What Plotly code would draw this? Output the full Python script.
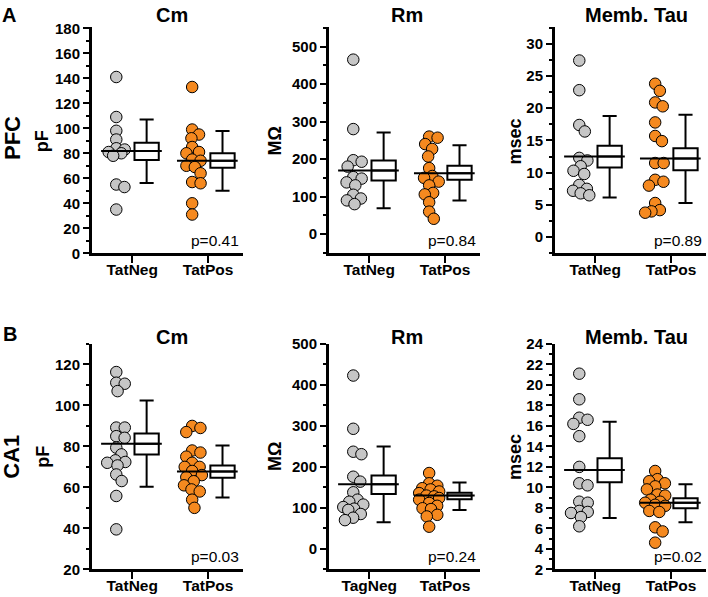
import math
import plotly.graph_objects as go

# ---------------- data ----------------
groups = ["TatNeg", "TatPos"]
groups_ca1_rm = ["TagNeg", "TatPos"]

pfc_cm_neg = [141, 109, 98, 91, 84, 83, 81, 80, 78, 55, 53, 35]
pfc_cm_pos = [133, 99, 95, 92, 85, 81, 80, 75, 74, 70, 69, 64, 57, 56, 40, 31]
pfc_rm_neg = [465, 280, 197, 193, 180, 152, 148, 138, 130, 105, 95, 90, 80]
pfc_rm_pos = [260, 257, 240, 227, 207, 176, 155, 150, 140, 130, 110, 106, 85, 60, 41]
pfc_tau_neg = [27.4, 22.8, 17.4, 16.4, 12.3, 11.9, 11.0, 10.3, 9.8, 8.1, 7.5, 7.2, 6.8, 6.5]
pfc_tau_pos = [23.8, 22.7, 20.9, 20.3, 17.8, 15.7, 14.9, 11.5, 11.5, 8.9, 8.6, 8.0, 5.3, 4.2, 4.0, 3.8]
ca1_cm_neg = [116.3, 111.1, 110.6, 107, 89.2, 89.2, 85, 84.2, 79.4, 76.1, 73.2, 72.4, 72, 70.7, 66.3, 63.1, 55.8, 39.5]
ca1_cm_pos = [90, 89, 87, 78, 77, 75, 72, 70, 70, 68, 66, 65, 63, 61, 59, 58, 54, 50]
ca1_rm_neg = [423, 293, 237, 231, 176, 164, 138, 120, 115, 108, 102, 98, 95, 85, 76, 70]
ca1_rm_pos = [185, 160, 154, 148, 145, 140, 136, 130, 128, 124, 120, 112, 105, 99, 97, 83, 79, 54]
ca1_tau_neg = [21.1, 18.6, 16.8, 16.6, 16.2, 15.0, 12.0, 10.4, 10.2, 8.6, 8.5, 7.7, 7.6, 7.5, 7.1, 6.2]
ca1_tau_pos = [11.6, 10.8, 10.6, 10.4, 10.1, 9.8, 9.3, 9.2, 8.8, 8.6, 8.5, 8.3, 8.2, 7.7, 7.6, 6.1, 5.7, 4.6]

# group summaries (mean line, box low/high, whisker low/high): [TatNeg, TatPos]
pfc_cm_mean = [81.8, 74.1]
pfc_cm_box_lo = [74.6, 68.5]
pfc_cm_box_hi = [88.5, 80.0]
pfc_cm_wh_lo = [56.2, 50.0]
pfc_cm_wh_hi = [107.0, 97.8]

pfc_rm_mean = [169.6, 162.6]
pfc_rm_box_lo = [143, 145]
pfc_rm_box_hi = [196, 182]
pfc_rm_wh_lo = [69, 90]
pfc_rm_wh_hi = [271, 237]

pfc_tau_mean = [12.5, 12.2]
pfc_tau_box_lo = [10.8, 10.4]
pfc_tau_box_hi = [14.2, 13.8]
pfc_tau_wh_lo = [6.15, 5.3]
pfc_tau_wh_hi = [18.8, 19.0]

ca1_cm_mean = [81.3, 67.7]
ca1_cm_box_lo = [76.1, 64.7]
ca1_cm_box_hi = [86.3, 70.7]
ca1_cm_wh_lo = [60.3, 55.0]
ca1_cm_wh_hi = [102.4, 80.5]

ca1_rm_mean = [157.7, 130.0]
ca1_rm_box_lo = [134, 121]
ca1_rm_box_hi = [179, 137]
ca1_rm_wh_lo = [65, 95]
ca1_rm_wh_hi = [249.6, 161.8]

ca1_tau_mean = [11.7, 8.5]
ca1_tau_box_lo = [10.5, 7.96]
ca1_tau_box_hi = [12.84, 8.93]
ca1_tau_wh_lo = [7.0, 6.6]
ca1_tau_wh_hi = [16.4, 10.3]

p_values = ["p=0.41", "p=0.84", "p=0.89", "p=0.03", "p=0.24", "p=0.02"]
panel_titles = ["Cm", "Rm", "Memb. Tau"]
y_titles = ["pF", "MΩ", "msec"]
row_names = ["PFC", "CA1"]
row_letters = ["A", "B"]

# ---------------- layout geometry ----------------
W, H = 708, 597
col_left = [92, 329, 555]
col_w = 151
row_top = [27, 344]
row_bot = [253.3, 569.3]
XR = [0.47, 2.46]

GREY = "#C6C6C6"
ORANGE = "#F5891F"
FONT = "Arial, Liberation Sans, sans-serif"

panels = [
    dict(neg=pfc_cm_neg, pos=pfc_cm_pos, mean=pfc_cm_mean, blo=pfc_cm_box_lo, bhi=pfc_cm_box_hi,
         wlo=pfc_cm_wh_lo, whi=pfc_cm_wh_hi, yr=[0, 181], dt=20, mdt=10, labels=groups),
    dict(neg=pfc_rm_neg, pos=pfc_rm_pos, mean=pfc_rm_mean, blo=pfc_rm_box_lo, bhi=pfc_rm_box_hi,
         wlo=pfc_rm_wh_lo, whi=pfc_rm_wh_hi, yr=[-51, 552], dt=100, mdt=50, labels=groups),
    dict(neg=pfc_tau_neg, pos=pfc_tau_pos, mean=pfc_tau_mean, blo=pfc_tau_box_lo, bhi=pfc_tau_box_hi,
         wlo=pfc_tau_wh_lo, whi=pfc_tau_wh_hi, yr=[-2.5, 32.6], dt=5, mdt=2.5, labels=groups),
    dict(neg=ca1_cm_neg, pos=ca1_cm_pos, mean=ca1_cm_mean, blo=ca1_cm_box_lo, bhi=ca1_cm_box_hi,
         wlo=ca1_cm_wh_lo, whi=ca1_cm_wh_hi, yr=[20, 130], dt=20, mdt=10, labels=groups),
    dict(neg=ca1_rm_neg, pos=ca1_rm_pos, mean=ca1_rm_mean, blo=ca1_rm_box_lo, bhi=ca1_rm_box_hi,
         wlo=ca1_rm_wh_lo, whi=ca1_rm_wh_hi, yr=[-50, 500], dt=100, mdt=50, labels=groups_ca1_rm),
    dict(neg=ca1_tau_neg, pos=ca1_tau_pos, mean=ca1_tau_mean, blo=ca1_tau_box_lo, bhi=ca1_tau_box_hi,
         wlo=ca1_tau_wh_lo, whi=ca1_tau_wh_hi, yr=[2, 24], dt=2, mdt=1, labels=groups),
]


def beeswarm(values, ypx, D=8.5, cap=10.0):
    """Horizontal pixel offsets (limited spread) so that markers overlap little."""
    placed = []
    offs = []
    for v in values:
        y = v * ypx
        cands = [0.0]
        for (xj, yj) in placed:
            dy = abs(y - yj)
            if dy < D:
                dx = math.sqrt(D * D - dy * dy)
                cands += [xj - dx, xj + dx]
        cands = [c for c in cands if abs(c) <= cap] + [-cap, cap, -cap / 2, cap / 2]

        def mind(c):
            return min([math.hypot(c - xj, y - yj) for (xj, yj) in placed] or [1e9])

        valid = [c for c in cands if mind(c) >= D - 1e-6]
        if valid:
            best = min(valid, key=lambda c: (abs(c), -c))
        else:
            best = max(cands, key=mind)
        placed.append((best, y))
        offs.append(best)
    return offs


fig = go.Figure()
layout = dict(
    width=W, height=H, margin=dict(l=0, r=0, t=0, b=0, autoexpand=False),
    paper_bgcolor="white", plot_bgcolor="white", showlegend=False,
    font=dict(family=FONT, color="black"),
)
annotations = []

SCAT_OFF = -0.21
BOX_OFF = 0.19
BOX_W = 0.32

for i, p in enumerate(panels):
    r, c = divmod(i, 3)
    ax = "" if i == 0 else str(i + 1)
    xa, ya = "x" + ax, "y" + ax
    x0 = col_left[c] / W
    x1 = (col_left[c] + col_w) / W
    y0 = 1 - row_bot[r] / H
    y1 = 1 - row_top[r] / H
    plot_h = row_bot[r] - row_top[r]
    ypx = plot_h / (p["yr"][1] - p["yr"][0])
    xpx = col_w / (XR[1] - XR[0])

    for g, (vals, col) in enumerate([(p["neg"], GREY), (p["pos"], ORANGE)]):
        pos = g + 1
        offs = beeswarm(vals, ypx)
        fig.add_trace(go.Scatter(
            x=[pos + SCAT_OFF + o / xpx for o in offs], y=vals, mode="markers",
            marker=dict(size=11.5, color=col, line=dict(color="black", width=1)),
            xaxis=xa, yaxis=ya, cliponaxis=False, hoverinfo="y"))
        fig.add_trace(go.Scatter(
            x=[pos - 0.41, pos + 0.39], y=[p["mean"][g], p["mean"][g]], mode="lines",
            line=dict(color="black", width=2), xaxis=xa, yaxis=ya, hoverinfo="skip"))
    fig.add_trace(go.Box(
        x=[1 + BOX_OFF, 2 + BOX_OFF], q1=p["blo"], median=p["mean"], q3=p["bhi"],
        lowerfence=p["wlo"], upperfence=p["whi"], width=BOX_W, whiskerwidth=0.58,
        fillcolor="white", line=dict(color="black", width=2), boxpoints=False,
        xaxis=xa, yaxis=ya))

    layout["xaxis" + ax] = dict(
        domain=[x0, x1], anchor=ya, range=XR, tickvals=[1, 2], ticktext=p["labels"],
        showline=True, linewidth=3, linecolor="black", ticks="outside", ticklen=7,
        tickwidth=2, tickcolor="black", showgrid=False, zeroline=False, automargin=False,
        ticklabelstandoff=-7,
        tickfont=dict(family=FONT, size=15.5, color="black", weight="bold"), fixedrange=True)
    layout["yaxis" + ax] = dict(
        domain=[y0, y1], anchor=xa, range=p["yr"], tick0=0, dtick=p["dt"],
        showline=True, linewidth=3, linecolor="black", ticks="outside", ticklen=6,
        tickwidth=2, tickcolor="black", showgrid=False, zeroline=False, automargin=False,
        minor=dict(ticks="outside", ticklen=3.5, tickwidth=2, tickcolor="black", dtick=p["mdt"],
                   tick0=0, showgrid=False),
        tickfont=dict(family=FONT, size=15, color="black", weight="bold"), fixedrange=True)

    annotations.append(dict(
        text=p_values[i], xref=xa + " domain", yref=ya + " domain", x=1, y=0.055,
        xanchor="right", yanchor="middle", xshift=-2, showarrow=False,
        font=dict(family=FONT, size=15.5, color="black")))

title_x = [172, 406.7, 636.7]
title_y = [15, 336.5]
ytitle_x = [42.7, 275, 515]
ytitle_y = [141.5, 457]
for r in range(2):
    for c in range(3):
        annotations.append(dict(
            text=panel_titles[c], xref="paper", yref="paper", x=title_x[c] / W,
            y=1 - title_y[r] / H, xanchor="center", yanchor="middle", showarrow=False,
            font=dict(family=FONT, size=20, color="black", weight="bold")))
        annotations.append(dict(
            text=y_titles[c], xref="paper", yref="paper", x=ytitle_x[c] / W,
            y=1 - ytitle_y[r] / H, xanchor="center", yanchor="middle", showarrow=False,
            textangle=-90, font=dict(family=FONT, size=18, color="black", weight="bold")))
    annotations.append(dict(
        text=row_names[r], xref="paper", yref="paper", x=12 / W,
        y=1 - [138, 456.7][r] / H, xanchor="center", yanchor="middle", showarrow=False,
        textangle=-90, font=dict(family=FONT, size=22, color="black", weight="bold")))
    annotations.append(dict(
        text=row_letters[r], xref="paper", yref="paper", x=[8.5, 10][r] / W,
        y=1 - [15, 333.5][r] / H, xanchor="center", yanchor="middle", showarrow=False,
        font=dict(family=FONT, size=20, color="black", weight="bold")))

layout["annotations"] = annotations
fig.update_layout(**layout)
fig.write_html(
    "out.html",
    config={"displayModeBar": False},
    post_script="document.body.style.margin='0px';document.body.style.overflow='hidden';",
)
